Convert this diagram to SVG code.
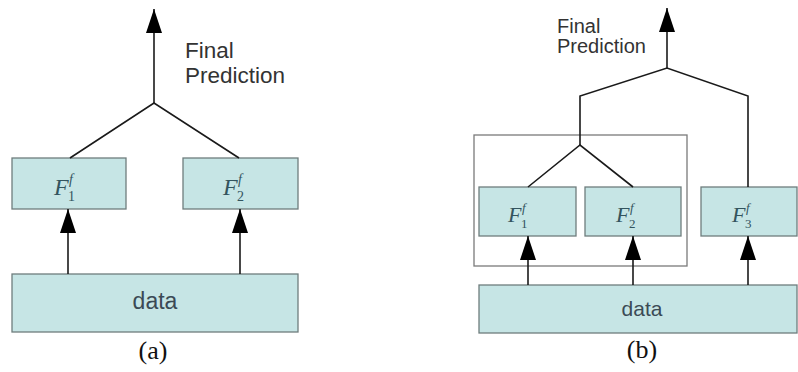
<svg xmlns="http://www.w3.org/2000/svg" width="798" height="372" viewBox="0 0 798 372">
<style>
.box{fill:#c6e5e5;stroke:#6f7d7d;stroke-width:1.3}
.grp{fill:none;stroke:#7a7a7a;stroke-width:1.3}
.ln{fill:none;stroke:#1a1a1a;stroke-width:1.6}
.lbl{font-family:"Liberation Sans",Arial,sans-serif;fill:#333}
.data{font-family:"Liberation Sans",Arial,sans-serif;fill:#3b4a55;text-anchor:middle}
.fm{font-family:"Liberation Serif","Times New Roman",serif;fill:#33545e}
.cap{font-family:"Liberation Serif","Times New Roman",serif;fill:#111;text-anchor:middle;font-size:26px}
</style>
<defs>
<marker id="ah" viewBox="0 0 24 16" refX="24" refY="8" markerWidth="24" markerHeight="16" markerUnits="userSpaceOnUse" orient="auto">
<path d="M0,0 L24,8 L0,16 z" fill="#000"/>
</marker>
</defs>
<g id="a-data"><rect class="box" x="12" y="274" width="286" height="58"/><text class="data" x="155" y="309" font-size="23">data</text></g>
<g id="a-f1"><rect class="box" x="12" y="158" width="114" height="51"/><text class="fm" x="54" y="195" font-size="24" font-style="italic">F</text><text class="fm" x="69" y="184" font-size="14" font-style="italic">f</text><text class="fm" x="68" y="201" font-size="14">1</text></g>
<g id="a-f2"><rect class="box" x="183" y="158" width="115" height="51"/><text class="fm" x="223" y="195" font-size="24" font-style="italic">F</text><text class="fm" x="238" y="184" font-size="14" font-style="italic">f</text><text class="fm" x="237" y="201" font-size="14">2</text></g>
<g id="a-final"><text class="lbl" font-size="22.5"><tspan x="185" y="58">Final</tspan><tspan x="185" y="83">Prediction</tspan></text></g>
<text class="cap" x="153" y="359">(a)</text>

<g id="b-group"><rect class="grp" x="474" y="135" width="213" height="131"/></g>
<g id="b-data"><rect class="box" x="479" y="285" width="318" height="48"/><text class="data" x="642" y="316" font-size="21">data</text></g>
<g id="b-f1"><rect class="box" x="479" y="187" width="97" height="49"/><text class="fm" x="508" y="222" font-size="22" font-style="italic">F</text><text class="fm" x="522" y="212" font-size="13" font-style="italic">f</text><text class="fm" x="521" y="228" font-size="13">1</text></g>
<g id="b-f2"><rect class="box" x="585" y="187" width="96" height="49"/><text class="fm" x="616" y="222" font-size="22" font-style="italic">F</text><text class="fm" x="630" y="212" font-size="13" font-style="italic">f</text><text class="fm" x="629" y="228" font-size="13">2</text></g>
<g id="b-f3"><rect class="box" x="701" y="187" width="96" height="49"/><text class="fm" x="732" y="222" font-size="22" font-style="italic">F</text><text class="fm" x="746" y="212" font-size="13" font-style="italic">f</text><text class="fm" x="745" y="228" font-size="13">3</text></g>
<g id="b-final"><text class="lbl" font-size="20"><tspan x="557" y="33">Final</tspan><tspan x="557" y="53">Prediction</tspan></text></g>
<text class="cap" x="642" y="358">(b)</text>

<g id="connectors">
<line class="ln" x1="154" y1="103" x2="154" y2="9" marker-end="url(#ah)"/>
<polyline class="ln" points="70,158 154,103 239,158"/>
<line class="ln" x1="68" y1="274" x2="68" y2="209" marker-end="url(#ah)"/>
<line class="ln" x1="240" y1="274" x2="240" y2="209" marker-end="url(#ah)"/>

<line class="ln" x1="667" y1="68" x2="667" y2="8" marker-end="url(#ah)"/>
<polyline class="ln" points="580,145 580,96 667,68 748,96 748,187"/>
<polyline class="ln" points="528,187 580,145 633,187"/>
<line class="ln" x1="528" y1="285" x2="528" y2="236" marker-end="url(#ah)"/>
<line class="ln" x1="633" y1="285" x2="633" y2="236" marker-end="url(#ah)"/>
<line class="ln" x1="748" y1="285" x2="748" y2="236" marker-end="url(#ah)"/>
</g>
</svg>
